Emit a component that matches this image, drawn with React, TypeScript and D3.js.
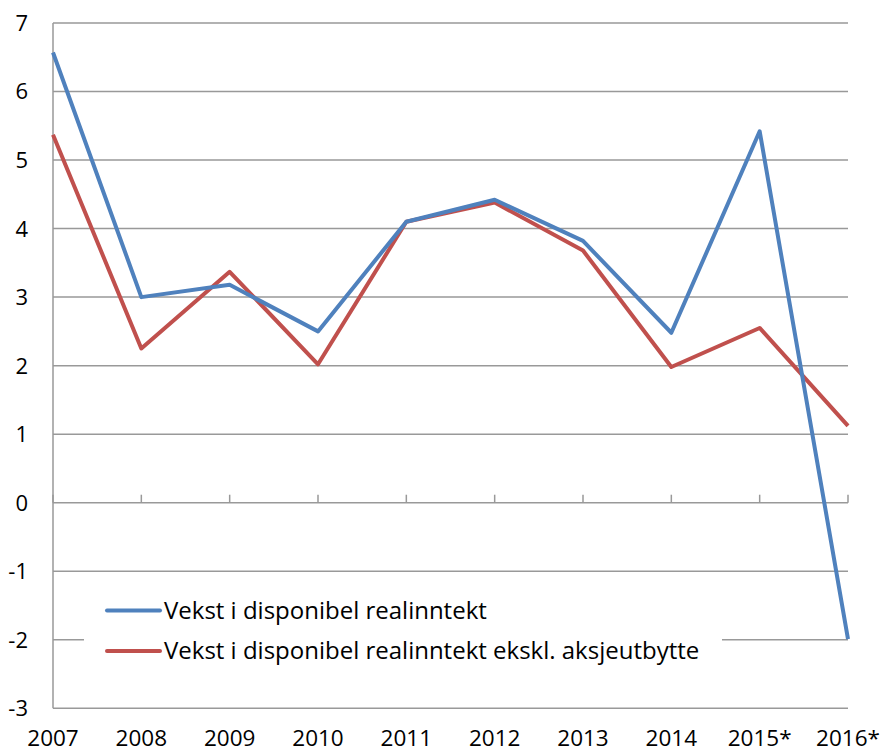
import React from "react";
import * as d3 from "d3";

const categories = ["2007", "2008", "2009", "2010", "2011", "2012", "2013", "2014", "2015*", "2016*"];
const seriesNames = ["Vekst i disponibel realinntekt", "Vekst i disponibel realinntekt ekskl. aksjeutbytte"];
const blueValues = [6.57, 3.0, 3.18, 2.5, 4.1, 4.42, 3.82, 2.48, 5.42, -1.99];
const redValues = [5.37, 2.25, 3.37, 2.02, 4.1, 4.38, 3.68, 1.98, 2.55, 1.12];
const yTicks = [7, 6, 5, 4, 3, 2, 1, 0, -1, -2, -3];
const colors = ["#4F81BD", "#C0504D"];

export default function App() {
  const W = 882, H = 751;
  const left = 53, right = 848, top = 23, bottom = 708.3;
  const x = d3.scalePoint<string>().domain(categories).range([left, right]);
  const y = d3.scaleLinear().domain([-3, 7]).range([bottom, top]);
  const line = d3.line<number>().x((_, i) => x(categories[i])!).y((d) => y(d));
  const font = "'Open Sans', 'Noto Sans', sans-serif";
  const grid = "#999999";
  return (
    <svg width={W} height={H} style={{ position: "absolute", left: 0, top: 0 }}>
      <rect width={W} height={H} fill="#fff" />
      {yTicks.map((t) => (
        <line key={t} x1={left} x2={right} y1={y(t)} y2={y(t)} stroke={grid} strokeWidth={1.5} />
      ))}
      <line x1={left} x2={left} y1={top} y2={bottom} stroke={grid} strokeWidth={1.5} />
      {categories.map((c) => (
        <line key={c} x1={x(c)} x2={x(c)} y1={y(0)} y2={y(0) - 8} stroke={grid} strokeWidth={1.5} />
      ))}
      {yTicks.map((t) => (
        <text key={t} x={28} y={y(t)} dy="0.36em" textAnchor="end" fontFamily={font} fontSize={22} fill="#000">
          {t}
        </text>
      ))}
      {categories.map((c) => (
        <text key={c} x={x(c)} y={746} textAnchor="middle" fontFamily={font} fontSize={22.5} fill="#000">
          {c}
        </text>
      ))}
      <path d={line(redValues)!} fill="none" stroke={colors[1]} strokeWidth={4} strokeLinejoin="round" />
      <path d={line(blueValues)!} fill="none" stroke={colors[0]} strokeWidth={4} strokeLinejoin="round" />
      <rect x={84} y={585} width={638} height={90} fill="#fff" />
      {seriesNames.map((s, i) => (
        <g key={s}>
          <line x1={107} x2={160} y1={610.5 + i * 40.5} y2={610.5 + i * 40.5} stroke={colors[i]} strokeWidth={4} strokeLinecap="round" />
          <text x={164} y={610.5 + i * 40.5} dy="0.35em" fontFamily={font} fontSize={24} fill="#000">
            {s}
          </text>
        </g>
      ))}
    </svg>
  );
}
